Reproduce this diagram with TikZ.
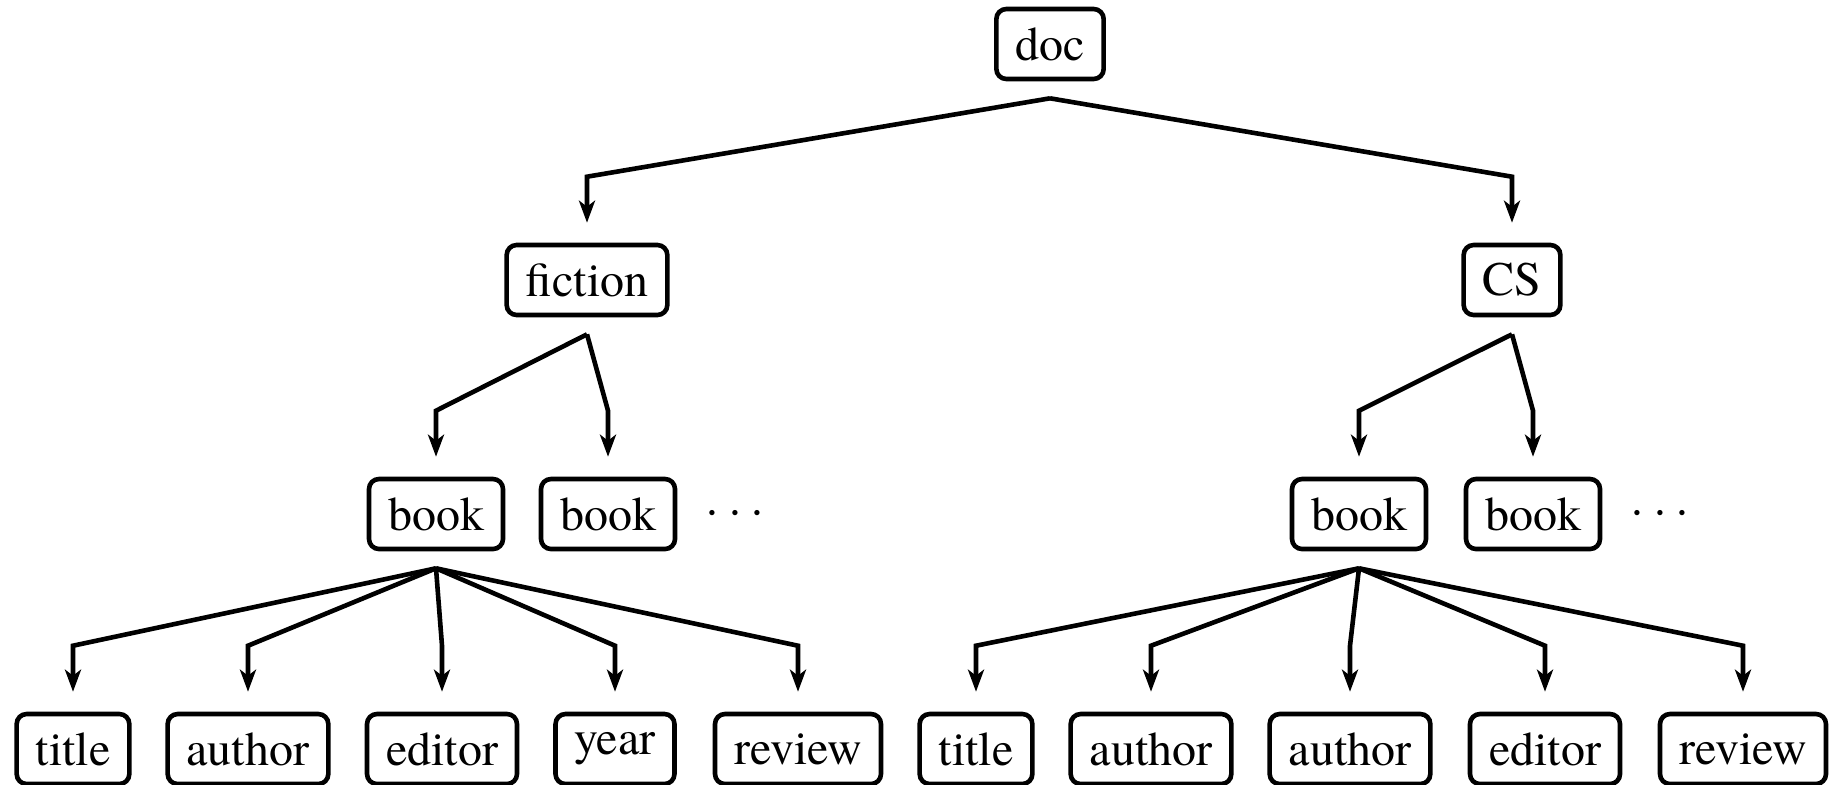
\documentclass[tikz,border=0pt]{standalone}
\usepackage{fontspec}
\setmainfont{TeX Gyre Termes}
\usetikzlibrary{arrows.meta,calc}
\begin{document}
\begin{tikzpicture}[x=0.5pt,y=-0.5pt,
  box/.style={draw, line width=2.3pt, rounded corners=5pt, inner xsep=9.5pt, inner ysep=0pt,
    minimum height=35pt, font=\rmfamily\fontsize{24}{28}\selectfont},
  conn/.style={line width=2.3pt, -{Stealth[length=11pt,width=8pt,inset=3pt]}},
  dotsnode/.style={inner sep=0pt, font=\fontsize{24}{28}\selectfont}]
\useasboundingbox (0,0) rectangle (1831,784);
% level 0
\node[box] (doc) at (1050,44) {doc};
% level 1
\node[box] (fic) at (587,280) {fiction};
\node[box] (cs) at (1512,280) {CS};
% level 2
\node[box] (lb1) at (436,514) {book};
\node[box] (lb2) at (608,514) {book};
\node[dotsnode] (ldots) at (735,514) {$\cdots$};
\node[box] (rb1) at (1359,514) {book};
\node[box] (rb2) at (1533,514) {book};
\node[dotsnode] (rdots) at (1660,514) {$\cdots$};
% level 3
\node[box] (lt) at (73,749) {title};
\node[box] (la) at (248,749) {author};
\node[box] (le) at (442,749) {editor};
\node[box] (ly) at (615,749) {year};
\node[box] (lr) at (798,749) {review};
\node[box] (rt) at (976,749) {title};
\node[box] (ra1) at (1151,749) {author};
\node[box] (ra2) at (1350,749) {author};
\node[box] (re) at (1545,749) {editor};
\node[box] (rr) at (1743,749) {review};
% connectors
\foreach \p/\c in {doc/fic, doc/cs, fic/lb1, fic/lb2, cs/rb1, cs/rb2,
    lb1/lt, lb1/la, lb1/le, lb1/ly, lb1/lr,
    rb1/rt, rb1/ra1, rb1/ra2, rb1/re, rb1/rr}
  \draw[conn] ($(\p.south)+(0,17)$) -- ($(\c.north)+(0,-66)$) -- ($(\c.north)+(0,-20)$);
\end{tikzpicture}
\end{document}
